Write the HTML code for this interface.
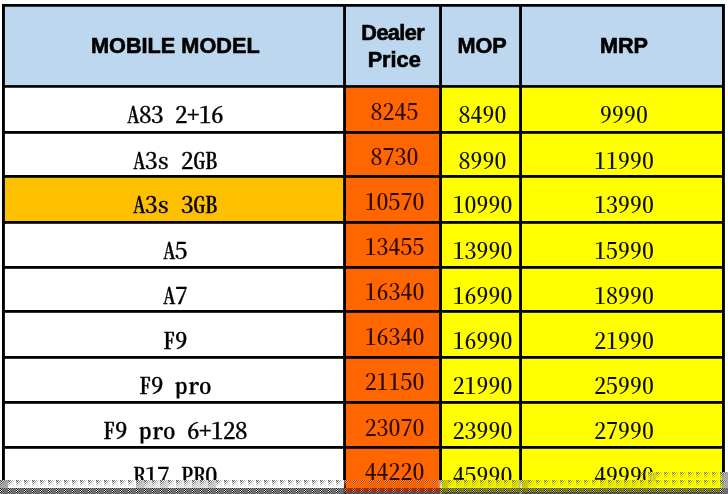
<!DOCTYPE html>
<html lang="en">
<head>
<meta charset="utf-8">
<title>Mobile price list</title>
<style>
html,body{margin:0;padding:0;background:#fff;}
body{width:728px;height:494px;overflow:hidden;position:relative;}
#sheet{position:absolute;left:0;top:0;width:728px;height:494px;overflow:hidden;background:#fff;}
#cells{position:absolute;left:0;top:0;width:728px;height:494px;}
.c{position:absolute;overflow:hidden;}
.h{position:absolute;font-family:"Liberation Sans",Arial,sans-serif;font-weight:bold;font-size:21.7px;line-height:27px;color:#000;text-align:center;white-space:nowrap;-webkit-text-stroke:0.6px #000;}
.t{position:absolute;font-family:"Noto Serif CJK SC","Liberation Serif",serif;font-feature-settings:"hwid";font-size:24px;line-height:24px;height:24px;color:#000;font-weight:500;transform-origin:50% 22.37px;transform:scale(1,0.95);text-align:center;white-space:pre;}
.m{height:28px;overflow:hidden;transform-origin:50% 22.81px;font-weight:500;font-size:25px;letter-spacing:-0.5px;-webkit-text-stroke:0.3px #000;transform:scale(1,0.915);}
.o{color:#2a0b00;font-weight:500;transform:scale(0.995,0.94);}
.y{color:#0c0c00;font-weight:500;transform:scale(0.995,0.94);}
#noise{position:absolute;left:0;top:472px;width:728px;height:22px;}
</style>
</head>
<body>
<div id="sheet">
<svg id="cells" width="728" height="494" viewBox="0 0 728 494"><rect x="2" y="4" width="722.9" height="490" fill="#000"/><rect x="4.9" y="6.75" width="338.2" height="78.35" fill="#bdd7ee"/><rect x="346.0" y="6.75" width="93.1" height="78.35" fill="#bdd7ee"/><rect x="442.0" y="6.75" width="77.1" height="78.35" fill="#bdd7ee"/><rect x="522.0" y="6.75" width="200.0" height="78.35" fill="#bdd7ee"/><rect x="4.9" y="87.75" width="338.2" height="43.25" fill="#ffffff"/><rect x="346.0" y="87.75" width="93.1" height="43.25" fill="#ff6600"/><rect x="442.0" y="87.75" width="77.1" height="43.25" fill="#ffff00"/><rect x="522.0" y="87.75" width="200.0" height="43.25" fill="#ffff00"/><rect x="4.9" y="133.8" width="338.2" height="41.2" fill="#ffffff"/><rect x="346.0" y="133.8" width="93.1" height="41.2" fill="#ff6600"/><rect x="442.0" y="133.8" width="77.1" height="41.2" fill="#ffff00"/><rect x="522.0" y="133.8" width="200.0" height="41.2" fill="#ffff00"/><rect x="4.9" y="177.8" width="338.2" height="43.2" fill="#ffc000"/><rect x="346.0" y="177.8" width="93.1" height="43.2" fill="#ff6600"/><rect x="442.0" y="177.8" width="77.1" height="43.2" fill="#ffff00"/><rect x="522.0" y="177.8" width="200.0" height="43.2" fill="#ffff00"/><rect x="4.9" y="223.8" width="338.2" height="42.2" fill="#ffffff"/><rect x="346.0" y="223.8" width="93.1" height="42.2" fill="#ff6600"/><rect x="442.0" y="223.8" width="77.1" height="42.2" fill="#ffff00"/><rect x="522.0" y="223.8" width="200.0" height="42.2" fill="#ffff00"/><rect x="4.9" y="268.8" width="338.2" height="41.2" fill="#ffffff"/><rect x="346.0" y="268.8" width="93.1" height="41.2" fill="#ff6600"/><rect x="442.0" y="268.8" width="77.1" height="41.2" fill="#ffff00"/><rect x="522.0" y="268.8" width="200.0" height="41.2" fill="#ffff00"/><rect x="4.9" y="312.8" width="338.2" height="43.2" fill="#ffffff"/><rect x="346.0" y="312.8" width="93.1" height="43.2" fill="#ff6600"/><rect x="442.0" y="312.8" width="77.1" height="43.2" fill="#ffff00"/><rect x="522.0" y="312.8" width="200.0" height="43.2" fill="#ffff00"/><rect x="4.9" y="358.8" width="338.2" height="42.2" fill="#ffffff"/><rect x="346.0" y="358.8" width="93.1" height="42.2" fill="#ff6600"/><rect x="442.0" y="358.8" width="77.1" height="42.2" fill="#ffff00"/><rect x="522.0" y="358.8" width="200.0" height="42.2" fill="#ffff00"/><rect x="4.9" y="403.8" width="338.2" height="42.2" fill="#ffffff"/><rect x="346.0" y="403.8" width="93.1" height="42.2" fill="#ff6600"/><rect x="442.0" y="403.8" width="77.1" height="42.2" fill="#ffff00"/><rect x="522.0" y="403.8" width="200.0" height="42.2" fill="#ffff00"/><rect x="4.9" y="448.8" width="338.2" height="45.2" fill="#ffffff"/><rect x="346.0" y="448.8" width="93.1" height="45.2" fill="#ff6600"/><rect x="442.0" y="448.8" width="77.1" height="45.2" fill="#ffff00"/><rect x="522.0" y="448.8" width="200.0" height="45.2" fill="#ffff00"/></svg>
<div class="h" style="left:6.3px;top:32px;width:338px">MOBILE MODEL</div>
<div class="h" style="left:347.7px;top:19px;width:93px"><span style="letter-spacing:-0.6px;position:relative;left:-1.5px">Dealer</span><br>Price</div>
<div class="h" style="left:443.6px;top:32px;width:77px">MOP</div>
<div class="h" style="left:524.0px;top:32px;width:200px">MRP</div>
<div class="t m" style="left:6.0px;top:100.29px;width:338px">A83 2+16</div>
<div class="t o" style="left:348.2px;top:97.73px;width:93px">8245</div>
<div class="t y" style="left:444.4px;top:100.73px;width:77px">8490</div>
<div class="t y" style="left:524.2px;top:100.73px;width:200px">9990</div>
<div class="t m" style="left:6.0px;top:146.29px;width:338px">A3s 2GB</div>
<div class="t o" style="left:348.2px;top:142.73px;width:93px">8730</div>
<div class="t y" style="left:444.4px;top:146.73px;width:77px">8990</div>
<div class="t y" style="left:524.2px;top:146.73px;width:200px">11990</div>
<div class="t m" style="left:6.0px;top:190.29px;width:338px">A3s 3GB</div>
<div class="t o" style="left:348.2px;top:187.73px;width:93px">10570</div>
<div class="t y" style="left:444.4px;top:190.73px;width:77px">10990</div>
<div class="t y" style="left:524.2px;top:190.73px;width:200px">13990</div>
<div class="t m" style="left:6.0px;top:236.29px;width:338px">A5</div>
<div class="t o" style="left:348.2px;top:232.73px;width:93px">13455</div>
<div class="t y" style="left:444.4px;top:236.73px;width:77px">13990</div>
<div class="t y" style="left:524.2px;top:236.73px;width:200px">15990</div>
<div class="t m" style="left:6.0px;top:281.29px;width:338px">A7</div>
<div class="t o" style="left:348.2px;top:277.73px;width:93px">16340</div>
<div class="t y" style="left:444.4px;top:281.73px;width:77px">16990</div>
<div class="t y" style="left:524.2px;top:281.73px;width:200px">18990</div>
<div class="t m" style="left:6.0px;top:326.29px;width:338px">F9</div>
<div class="t o" style="left:348.2px;top:322.73px;width:93px">16340</div>
<div class="t y" style="left:444.4px;top:326.73px;width:77px">16990</div>
<div class="t y" style="left:524.2px;top:326.73px;width:200px">21990</div>
<div class="t m" style="left:6.0px;top:371.29px;width:338px">F9 pro</div>
<div class="t o" style="left:348.2px;top:367.73px;width:93px">21150</div>
<div class="t y" style="left:444.4px;top:371.73px;width:77px">21990</div>
<div class="t y" style="left:524.2px;top:371.73px;width:200px">25990</div>
<div class="t m" style="left:6.0px;top:416.29px;width:338px">F9 pro 6+128</div>
<div class="t o" style="left:348.2px;top:413.73px;width:93px">23070</div>
<div class="t y" style="left:444.4px;top:416.73px;width:77px">23990</div>
<div class="t y" style="left:524.2px;top:416.73px;width:200px">27990</div>
<div class="t m" style="left:6.0px;top:461.29px;width:338px">R17 PRO</div>
<div class="t o" style="left:348.2px;top:457.73px;width:93px">44220</div>
<div class="t y" style="left:444.4px;top:461.73px;width:77px">45990</div>
<div class="t y" style="left:524.2px;top:461.73px;width:200px">49990</div>
<svg id="noise" width="728" height="22" viewBox="0 472 728 22" shape-rendering="crispEdges"><defs><pattern id="aw" x="0" y="472" width="8" height="8" patternUnits="userSpaceOnUse"><rect x="0" y="0" width="1" height="1" fill="#000" fill-opacity="0.85"/><rect x="1" y="0" width="1" height="1" fill="#fff" fill-opacity="0.74"/><rect x="2" y="0" width="1" height="1" fill="#000" fill-opacity="0.53"/><rect x="3" y="0" width="1" height="1" fill="#fff" fill-opacity="0.37"/><rect x="4" y="0" width="1" height="1" fill="#000" fill-opacity="0.23"/><rect x="5" y="0" width="1" height="1" fill="#fff" fill-opacity="0.14"/><rect x="6" y="0" width="1" height="1" fill="#000" fill-opacity="0.06"/><rect x="7" y="0" width="1" height="1" fill="#fff" fill-opacity="0.02"/><rect x="0" y="1" width="1" height="1" fill="#fff" fill-opacity="0.76"/><rect x="1" y="1" width="1" height="1" fill="#000" fill-opacity="0.74"/><rect x="2" y="1" width="1" height="1" fill="#fff" fill-opacity="0.47"/><rect x="3" y="1" width="1" height="1" fill="#000" fill-opacity="0.37"/><rect x="4" y="1" width="1" height="1" fill="#fff" fill-opacity="0.21"/><rect x="5" y="1" width="1" height="1" fill="#000" fill-opacity="0.14"/><rect x="6" y="1" width="1" height="1" fill="#fff" fill-opacity="0.05"/><rect x="7" y="1" width="1" height="1" fill="#000" fill-opacity="0.02"/><rect x="0" y="2" width="1" height="1" fill="#000" fill-opacity="0.56"/><rect x="1" y="2" width="1" height="1" fill="#fff" fill-opacity="0.49"/><rect x="2" y="2" width="1" height="1" fill="#000" fill-opacity="0.35"/><rect x="3" y="2" width="1" height="1" fill="#fff" fill-opacity="0.24"/><rect x="4" y="2" width="1" height="1" fill="#000" fill-opacity="0.15"/><rect x="5" y="2" width="1" height="1" fill="#fff" fill-opacity="0.09"/><rect x="6" y="2" width="1" height="1" fill="#000" fill-opacity="0.04"/><rect x="0" y="3" width="1" height="1" fill="#fff" fill-opacity="0.38"/><rect x="1" y="3" width="1" height="1" fill="#000" fill-opacity="0.38"/><rect x="2" y="3" width="1" height="1" fill="#fff" fill-opacity="0.24"/><rect x="3" y="3" width="1" height="1" fill="#000" fill-opacity="0.19"/><rect x="4" y="3" width="1" height="1" fill="#fff" fill-opacity="0.10"/><rect x="5" y="3" width="1" height="1" fill="#000" fill-opacity="0.07"/><rect x="6" y="3" width="1" height="1" fill="#fff" fill-opacity="0.03"/><rect x="0" y="4" width="1" height="1" fill="#000" fill-opacity="0.28"/><rect x="1" y="4" width="1" height="1" fill="#fff" fill-opacity="0.24"/><rect x="2" y="4" width="1" height="1" fill="#000" fill-opacity="0.17"/><rect x="3" y="4" width="1" height="1" fill="#fff" fill-opacity="0.12"/><rect x="4" y="4" width="1" height="1" fill="#000" fill-opacity="0.08"/><rect x="5" y="4" width="1" height="1" fill="#fff" fill-opacity="0.04"/><rect x="0" y="5" width="1" height="1" fill="#fff" fill-opacity="0.16"/><rect x="1" y="5" width="1" height="1" fill="#000" fill-opacity="0.16"/><rect x="2" y="5" width="1" height="1" fill="#fff" fill-opacity="0.10"/><rect x="3" y="5" width="1" height="1" fill="#000" fill-opacity="0.08"/><rect x="4" y="5" width="1" height="1" fill="#fff" fill-opacity="0.04"/><rect x="5" y="5" width="1" height="1" fill="#000" fill-opacity="0.03"/><rect x="0" y="6" width="1" height="1" fill="#000" fill-opacity="0.09"/><rect x="1" y="6" width="1" height="1" fill="#fff" fill-opacity="0.07"/><rect x="2" y="6" width="1" height="1" fill="#000" fill-opacity="0.05"/><rect x="3" y="6" width="1" height="1" fill="#fff" fill-opacity="0.04"/><rect x="4" y="6" width="1" height="1" fill="#000" fill-opacity="0.02"/><rect x="0" y="7" width="1" height="1" fill="#fff" fill-opacity="0.02"/><rect x="1" y="7" width="1" height="1" fill="#000" fill-opacity="0.02"/></pattern><pattern id="ao" x="0" y="472" width="8" height="8" patternUnits="userSpaceOnUse"><rect x="0" y="0" width="1" height="1" fill="#780000" fill-opacity="0.80"/><rect x="1" y="0" width="1" height="1" fill="#ffe890" fill-opacity="0.83"/><rect x="2" y="0" width="1" height="1" fill="#780000" fill-opacity="0.50"/><rect x="3" y="0" width="1" height="1" fill="#ffe890" fill-opacity="0.41"/><rect x="4" y="0" width="1" height="1" fill="#780000" fill-opacity="0.22"/><rect x="5" y="0" width="1" height="1" fill="#ffe890" fill-opacity="0.15"/><rect x="6" y="0" width="1" height="1" fill="#780000" fill-opacity="0.06"/><rect x="7" y="0" width="1" height="1" fill="#ffe890" fill-opacity="0.03"/><rect x="0" y="1" width="1" height="1" fill="#ffe890" fill-opacity="0.85"/><rect x="1" y="1" width="1" height="1" fill="#780000" fill-opacity="0.70"/><rect x="2" y="1" width="1" height="1" fill="#ffe890" fill-opacity="0.53"/><rect x="3" y="1" width="1" height="1" fill="#780000" fill-opacity="0.35"/><rect x="4" y="1" width="1" height="1" fill="#ffe890" fill-opacity="0.23"/><rect x="5" y="1" width="1" height="1" fill="#780000" fill-opacity="0.13"/><rect x="6" y="1" width="1" height="1" fill="#ffe890" fill-opacity="0.06"/><rect x="7" y="1" width="1" height="1" fill="#780000" fill-opacity="0.02"/><rect x="0" y="2" width="1" height="1" fill="#780000" fill-opacity="0.53"/><rect x="1" y="2" width="1" height="1" fill="#ffe890" fill-opacity="0.55"/><rect x="2" y="2" width="1" height="1" fill="#780000" fill-opacity="0.33"/><rect x="3" y="2" width="1" height="1" fill="#ffe890" fill-opacity="0.27"/><rect x="4" y="2" width="1" height="1" fill="#780000" fill-opacity="0.14"/><rect x="5" y="2" width="1" height="1" fill="#ffe890" fill-opacity="0.10"/><rect x="6" y="2" width="1" height="1" fill="#780000" fill-opacity="0.04"/><rect x="0" y="3" width="1" height="1" fill="#ffe890" fill-opacity="0.43"/><rect x="1" y="3" width="1" height="1" fill="#780000" fill-opacity="0.35"/><rect x="2" y="3" width="1" height="1" fill="#ffe890" fill-opacity="0.27"/><rect x="3" y="3" width="1" height="1" fill="#780000" fill-opacity="0.18"/><rect x="4" y="3" width="1" height="1" fill="#ffe890" fill-opacity="0.12"/><rect x="5" y="3" width="1" height="1" fill="#780000" fill-opacity="0.07"/><rect x="6" y="3" width="1" height="1" fill="#ffe890" fill-opacity="0.03"/><rect x="0" y="4" width="1" height="1" fill="#780000" fill-opacity="0.26"/><rect x="1" y="4" width="1" height="1" fill="#ffe890" fill-opacity="0.27"/><rect x="2" y="4" width="1" height="1" fill="#780000" fill-opacity="0.16"/><rect x="3" y="4" width="1" height="1" fill="#ffe890" fill-opacity="0.14"/><rect x="4" y="4" width="1" height="1" fill="#780000" fill-opacity="0.07"/><rect x="5" y="4" width="1" height="1" fill="#ffe890" fill-opacity="0.05"/><rect x="0" y="5" width="1" height="1" fill="#ffe890" fill-opacity="0.18"/><rect x="1" y="5" width="1" height="1" fill="#780000" fill-opacity="0.15"/><rect x="2" y="5" width="1" height="1" fill="#ffe890" fill-opacity="0.11"/><rect x="3" y="5" width="1" height="1" fill="#780000" fill-opacity="0.07"/><rect x="4" y="5" width="1" height="1" fill="#ffe890" fill-opacity="0.05"/><rect x="5" y="5" width="1" height="1" fill="#780000" fill-opacity="0.03"/><rect x="0" y="6" width="1" height="1" fill="#780000" fill-opacity="0.08"/><rect x="1" y="6" width="1" height="1" fill="#ffe890" fill-opacity="0.08"/><rect x="2" y="6" width="1" height="1" fill="#780000" fill-opacity="0.05"/><rect x="3" y="6" width="1" height="1" fill="#ffe890" fill-opacity="0.04"/><rect x="4" y="6" width="1" height="1" fill="#780000" fill-opacity="0.02"/><rect x="0" y="7" width="1" height="1" fill="#ffe890" fill-opacity="0.03"/><rect x="1" y="7" width="1" height="1" fill="#780000" fill-opacity="0.02"/></pattern><pattern id="ay" x="0" y="472" width="8" height="8" patternUnits="userSpaceOnUse"><rect x="0" y="0" width="1" height="1" fill="#1c1c00" fill-opacity="0.75"/><rect x="1" y="0" width="1" height="1" fill="#ffffa0" fill-opacity="0.64"/><rect x="2" y="0" width="1" height="1" fill="#1c1c00" fill-opacity="0.46"/><rect x="3" y="0" width="1" height="1" fill="#ffffa0" fill-opacity="0.32"/><rect x="4" y="0" width="1" height="1" fill="#1c1c00" fill-opacity="0.20"/><rect x="5" y="0" width="1" height="1" fill="#ffffa0" fill-opacity="0.12"/><rect x="6" y="0" width="1" height="1" fill="#1c1c00" fill-opacity="0.05"/><rect x="7" y="0" width="1" height="1" fill="#ffffa0" fill-opacity="0.02"/><rect x="0" y="1" width="1" height="1" fill="#ffffa0" fill-opacity="0.66"/><rect x="1" y="1" width="1" height="1" fill="#1c1c00" fill-opacity="0.66"/><rect x="2" y="1" width="1" height="1" fill="#ffffa0" fill-opacity="0.41"/><rect x="3" y="1" width="1" height="1" fill="#1c1c00" fill-opacity="0.33"/><rect x="4" y="1" width="1" height="1" fill="#ffffa0" fill-opacity="0.18"/><rect x="5" y="1" width="1" height="1" fill="#1c1c00" fill-opacity="0.12"/><rect x="6" y="1" width="1" height="1" fill="#ffffa0" fill-opacity="0.05"/><rect x="7" y="1" width="1" height="1" fill="#1c1c00" fill-opacity="0.02"/><rect x="0" y="2" width="1" height="1" fill="#1c1c00" fill-opacity="0.49"/><rect x="1" y="2" width="1" height="1" fill="#ffffa0" fill-opacity="0.43"/><rect x="2" y="2" width="1" height="1" fill="#1c1c00" fill-opacity="0.31"/><rect x="3" y="2" width="1" height="1" fill="#ffffa0" fill-opacity="0.21"/><rect x="4" y="2" width="1" height="1" fill="#1c1c00" fill-opacity="0.13"/><rect x="5" y="2" width="1" height="1" fill="#ffffa0" fill-opacity="0.08"/><rect x="6" y="2" width="1" height="1" fill="#1c1c00" fill-opacity="0.03"/><rect x="0" y="3" width="1" height="1" fill="#ffffa0" fill-opacity="0.34"/><rect x="1" y="3" width="1" height="1" fill="#1c1c00" fill-opacity="0.33"/><rect x="2" y="3" width="1" height="1" fill="#ffffa0" fill-opacity="0.21"/><rect x="3" y="3" width="1" height="1" fill="#1c1c00" fill-opacity="0.17"/><rect x="4" y="3" width="1" height="1" fill="#ffffa0" fill-opacity="0.09"/><rect x="5" y="3" width="1" height="1" fill="#1c1c00" fill-opacity="0.06"/><rect x="6" y="3" width="1" height="1" fill="#ffffa0" fill-opacity="0.02"/><rect x="0" y="4" width="1" height="1" fill="#1c1c00" fill-opacity="0.25"/><rect x="1" y="4" width="1" height="1" fill="#ffffa0" fill-opacity="0.21"/><rect x="2" y="4" width="1" height="1" fill="#1c1c00" fill-opacity="0.15"/><rect x="3" y="4" width="1" height="1" fill="#ffffa0" fill-opacity="0.11"/><rect x="4" y="4" width="1" height="1" fill="#1c1c00" fill-opacity="0.07"/><rect x="5" y="4" width="1" height="1" fill="#ffffa0" fill-opacity="0.04"/><rect x="0" y="5" width="1" height="1" fill="#ffffa0" fill-opacity="0.14"/><rect x="1" y="5" width="1" height="1" fill="#1c1c00" fill-opacity="0.14"/><rect x="2" y="5" width="1" height="1" fill="#ffffa0" fill-opacity="0.09"/><rect x="3" y="5" width="1" height="1" fill="#1c1c00" fill-opacity="0.07"/><rect x="4" y="5" width="1" height="1" fill="#ffffa0" fill-opacity="0.04"/><rect x="5" y="5" width="1" height="1" fill="#1c1c00" fill-opacity="0.03"/><rect x="0" y="6" width="1" height="1" fill="#1c1c00" fill-opacity="0.08"/><rect x="1" y="6" width="1" height="1" fill="#ffffa0" fill-opacity="0.06"/><rect x="2" y="6" width="1" height="1" fill="#1c1c00" fill-opacity="0.05"/><rect x="3" y="6" width="1" height="1" fill="#ffffa0" fill-opacity="0.03"/><rect x="4" y="6" width="1" height="1" fill="#1c1c00" fill-opacity="0.02"/><rect x="0" y="7" width="1" height="1" fill="#ffffa0" fill-opacity="0.02"/><rect x="1" y="7" width="1" height="1" fill="#1c1c00" fill-opacity="0.02"/></pattern><pattern id="bw" x="0" y="488" width="8" height="8" patternUnits="userSpaceOnUse"><rect x="0" y="0" width="1" height="1" fill="#000" fill-opacity="0.85"/><rect x="1" y="0" width="1" height="1" fill="#fff" fill-opacity="0.66"/><rect x="2" y="0" width="1" height="1" fill="#000" fill-opacity="0.53"/><rect x="3" y="0" width="1" height="1" fill="#fff" fill-opacity="0.33"/><rect x="4" y="0" width="1" height="1" fill="#000" fill-opacity="0.23"/><rect x="5" y="0" width="1" height="1" fill="#fff" fill-opacity="0.12"/><rect x="6" y="0" width="1" height="1" fill="#000" fill-opacity="0.06"/><rect x="7" y="0" width="1" height="1" fill="#fff" fill-opacity="0.02"/><rect x="0" y="1" width="1" height="1" fill="#fff" fill-opacity="0.80"/><rect x="1" y="1" width="1" height="1" fill="#000" fill-opacity="0.87"/><rect x="2" y="1" width="1" height="1" fill="#fff" fill-opacity="0.50"/><rect x="3" y="1" width="1" height="1" fill="#000" fill-opacity="0.44"/><rect x="4" y="1" width="1" height="1" fill="#fff" fill-opacity="0.22"/><rect x="5" y="1" width="1" height="1" fill="#000" fill-opacity="0.16"/><rect x="6" y="1" width="1" height="1" fill="#fff" fill-opacity="0.06"/><rect x="7" y="1" width="1" height="1" fill="#000" fill-opacity="0.03"/><rect x="0" y="2" width="1" height="1" fill="#000" fill-opacity="0.90"/><rect x="1" y="2" width="1" height="1" fill="#fff" fill-opacity="0.70"/><rect x="2" y="2" width="1" height="1" fill="#000" fill-opacity="0.56"/><rect x="3" y="2" width="1" height="1" fill="#fff" fill-opacity="0.35"/><rect x="4" y="2" width="1" height="1" fill="#000" fill-opacity="0.24"/><rect x="5" y="2" width="1" height="1" fill="#fff" fill-opacity="0.13"/><rect x="6" y="2" width="1" height="1" fill="#000" fill-opacity="0.06"/><rect x="7" y="2" width="1" height="1" fill="#fff" fill-opacity="0.02"/><rect x="0" y="3" width="1" height="1" fill="#fff" fill-opacity="0.68"/><rect x="1" y="3" width="1" height="1" fill="#000" fill-opacity="0.74"/><rect x="2" y="3" width="1" height="1" fill="#fff" fill-opacity="0.42"/><rect x="3" y="3" width="1" height="1" fill="#000" fill-opacity="0.37"/><rect x="4" y="3" width="1" height="1" fill="#fff" fill-opacity="0.18"/><rect x="5" y="3" width="1" height="1" fill="#000" fill-opacity="0.14"/><rect x="6" y="3" width="1" height="1" fill="#fff" fill-opacity="0.05"/><rect x="7" y="3" width="1" height="1" fill="#000" fill-opacity="0.02"/><rect x="0" y="4" width="1" height="1" fill="#000" fill-opacity="0.66"/><rect x="1" y="4" width="1" height="1" fill="#fff" fill-opacity="0.52"/><rect x="2" y="4" width="1" height="1" fill="#000" fill-opacity="0.41"/><rect x="3" y="4" width="1" height="1" fill="#fff" fill-opacity="0.26"/><rect x="4" y="4" width="1" height="1" fill="#000" fill-opacity="0.18"/><rect x="5" y="4" width="1" height="1" fill="#fff" fill-opacity="0.10"/><rect x="6" y="4" width="1" height="1" fill="#000" fill-opacity="0.05"/><rect x="0" y="5" width="1" height="1" fill="#fff" fill-opacity="0.44"/><rect x="1" y="5" width="1" height="1" fill="#000" fill-opacity="0.48"/><rect x="2" y="5" width="1" height="1" fill="#fff" fill-opacity="0.27"/><rect x="3" y="5" width="1" height="1" fill="#000" fill-opacity="0.24"/><rect x="4" y="5" width="1" height="1" fill="#fff" fill-opacity="0.12"/><rect x="5" y="5" width="1" height="1" fill="#000" fill-opacity="0.09"/><rect x="6" y="5" width="1" height="1" fill="#fff" fill-opacity="0.03"/></pattern><pattern id="bo" x="0" y="488" width="8" height="8" patternUnits="userSpaceOnUse"><rect x="0" y="0" width="1" height="1" fill="#3c0000" fill-opacity="0.85"/><rect x="1" y="0" width="1" height="1" fill="#ffd070" fill-opacity="0.70"/><rect x="2" y="0" width="1" height="1" fill="#3c0000" fill-opacity="0.53"/><rect x="3" y="0" width="1" height="1" fill="#ffd070" fill-opacity="0.35"/><rect x="4" y="0" width="1" height="1" fill="#3c0000" fill-opacity="0.23"/><rect x="5" y="0" width="1" height="1" fill="#ffd070" fill-opacity="0.13"/><rect x="6" y="0" width="1" height="1" fill="#3c0000" fill-opacity="0.06"/><rect x="7" y="0" width="1" height="1" fill="#ffd070" fill-opacity="0.02"/><rect x="0" y="1" width="1" height="1" fill="#ffd070" fill-opacity="0.85"/><rect x="1" y="1" width="1" height="1" fill="#3c0000" fill-opacity="0.87"/><rect x="2" y="1" width="1" height="1" fill="#ffd070" fill-opacity="0.53"/><rect x="3" y="1" width="1" height="1" fill="#3c0000" fill-opacity="0.44"/><rect x="4" y="1" width="1" height="1" fill="#ffd070" fill-opacity="0.23"/><rect x="5" y="1" width="1" height="1" fill="#3c0000" fill-opacity="0.16"/><rect x="6" y="1" width="1" height="1" fill="#ffd070" fill-opacity="0.06"/><rect x="7" y="1" width="1" height="1" fill="#3c0000" fill-opacity="0.03"/><rect x="0" y="2" width="1" height="1" fill="#3c0000" fill-opacity="0.90"/><rect x="1" y="2" width="1" height="1" fill="#ffd070" fill-opacity="0.74"/><rect x="2" y="2" width="1" height="1" fill="#3c0000" fill-opacity="0.56"/><rect x="3" y="2" width="1" height="1" fill="#ffd070" fill-opacity="0.37"/><rect x="4" y="2" width="1" height="1" fill="#3c0000" fill-opacity="0.24"/><rect x="5" y="2" width="1" height="1" fill="#ffd070" fill-opacity="0.14"/><rect x="6" y="2" width="1" height="1" fill="#3c0000" fill-opacity="0.06"/><rect x="7" y="2" width="1" height="1" fill="#ffd070" fill-opacity="0.02"/><rect x="0" y="3" width="1" height="1" fill="#ffd070" fill-opacity="0.72"/><rect x="1" y="3" width="1" height="1" fill="#3c0000" fill-opacity="0.74"/><rect x="2" y="3" width="1" height="1" fill="#ffd070" fill-opacity="0.45"/><rect x="3" y="3" width="1" height="1" fill="#3c0000" fill-opacity="0.37"/><rect x="4" y="3" width="1" height="1" fill="#ffd070" fill-opacity="0.20"/><rect x="5" y="3" width="1" height="1" fill="#3c0000" fill-opacity="0.14"/><rect x="6" y="3" width="1" height="1" fill="#ffd070" fill-opacity="0.05"/><rect x="7" y="3" width="1" height="1" fill="#3c0000" fill-opacity="0.02"/><rect x="0" y="4" width="1" height="1" fill="#3c0000" fill-opacity="0.33"/><rect x="1" y="4" width="1" height="1" fill="#ffd070" fill-opacity="0.27"/><rect x="2" y="4" width="1" height="1" fill="#3c0000" fill-opacity="0.21"/><rect x="3" y="4" width="1" height="1" fill="#ffd070" fill-opacity="0.14"/><rect x="4" y="4" width="1" height="1" fill="#3c0000" fill-opacity="0.09"/><rect x="5" y="4" width="1" height="1" fill="#ffd070" fill-opacity="0.05"/><rect x="6" y="4" width="1" height="1" fill="#3c0000" fill-opacity="0.02"/><rect x="0" y="5" width="1" height="1" fill="#ffd070" fill-opacity="0.19"/><rect x="1" y="5" width="1" height="1" fill="#3c0000" fill-opacity="0.19"/><rect x="2" y="5" width="1" height="1" fill="#ffd070" fill-opacity="0.12"/><rect x="3" y="5" width="1" height="1" fill="#3c0000" fill-opacity="0.10"/><rect x="4" y="5" width="1" height="1" fill="#ffd070" fill-opacity="0.05"/><rect x="5" y="5" width="1" height="1" fill="#3c0000" fill-opacity="0.04"/></pattern><pattern id="by" x="0" y="488" width="8" height="8" patternUnits="userSpaceOnUse"><rect x="0" y="0" width="1" height="1" fill="#0c0c00" fill-opacity="0.85"/><rect x="1" y="0" width="1" height="1" fill="#f4f400" fill-opacity="0.66"/><rect x="2" y="0" width="1" height="1" fill="#0c0c00" fill-opacity="0.53"/><rect x="3" y="0" width="1" height="1" fill="#f4f400" fill-opacity="0.33"/><rect x="4" y="0" width="1" height="1" fill="#0c0c00" fill-opacity="0.23"/><rect x="5" y="0" width="1" height="1" fill="#f4f400" fill-opacity="0.12"/><rect x="6" y="0" width="1" height="1" fill="#0c0c00" fill-opacity="0.06"/><rect x="7" y="0" width="1" height="1" fill="#f4f400" fill-opacity="0.02"/><rect x="0" y="1" width="1" height="1" fill="#f4f400" fill-opacity="0.80"/><rect x="1" y="1" width="1" height="1" fill="#0c0c00" fill-opacity="0.87"/><rect x="2" y="1" width="1" height="1" fill="#f4f400" fill-opacity="0.50"/><rect x="3" y="1" width="1" height="1" fill="#0c0c00" fill-opacity="0.44"/><rect x="4" y="1" width="1" height="1" fill="#f4f400" fill-opacity="0.22"/><rect x="5" y="1" width="1" height="1" fill="#0c0c00" fill-opacity="0.16"/><rect x="6" y="1" width="1" height="1" fill="#f4f400" fill-opacity="0.06"/><rect x="7" y="1" width="1" height="1" fill="#0c0c00" fill-opacity="0.03"/><rect x="0" y="2" width="1" height="1" fill="#0c0c00" fill-opacity="0.90"/><rect x="1" y="2" width="1" height="1" fill="#f4f400" fill-opacity="0.70"/><rect x="2" y="2" width="1" height="1" fill="#0c0c00" fill-opacity="0.56"/><rect x="3" y="2" width="1" height="1" fill="#f4f400" fill-opacity="0.35"/><rect x="4" y="2" width="1" height="1" fill="#0c0c00" fill-opacity="0.24"/><rect x="5" y="2" width="1" height="1" fill="#f4f400" fill-opacity="0.13"/><rect x="6" y="2" width="1" height="1" fill="#0c0c00" fill-opacity="0.06"/><rect x="7" y="2" width="1" height="1" fill="#f4f400" fill-opacity="0.02"/><rect x="0" y="3" width="1" height="1" fill="#f4f400" fill-opacity="0.68"/><rect x="1" y="3" width="1" height="1" fill="#0c0c00" fill-opacity="0.74"/><rect x="2" y="3" width="1" height="1" fill="#f4f400" fill-opacity="0.42"/><rect x="3" y="3" width="1" height="1" fill="#0c0c00" fill-opacity="0.37"/><rect x="4" y="3" width="1" height="1" fill="#f4f400" fill-opacity="0.18"/><rect x="5" y="3" width="1" height="1" fill="#0c0c00" fill-opacity="0.14"/><rect x="6" y="3" width="1" height="1" fill="#f4f400" fill-opacity="0.05"/><rect x="7" y="3" width="1" height="1" fill="#0c0c00" fill-opacity="0.02"/><rect x="0" y="4" width="1" height="1" fill="#0c0c00" fill-opacity="0.33"/><rect x="1" y="4" width="1" height="1" fill="#f4f400" fill-opacity="0.26"/><rect x="2" y="4" width="1" height="1" fill="#0c0c00" fill-opacity="0.21"/><rect x="3" y="4" width="1" height="1" fill="#f4f400" fill-opacity="0.13"/><rect x="4" y="4" width="1" height="1" fill="#0c0c00" fill-opacity="0.09"/><rect x="5" y="4" width="1" height="1" fill="#f4f400" fill-opacity="0.05"/><rect x="6" y="4" width="1" height="1" fill="#0c0c00" fill-opacity="0.02"/><rect x="0" y="5" width="1" height="1" fill="#f4f400" fill-opacity="0.18"/><rect x="1" y="5" width="1" height="1" fill="#0c0c00" fill-opacity="0.19"/><rect x="2" y="5" width="1" height="1" fill="#f4f400" fill-opacity="0.11"/><rect x="3" y="5" width="1" height="1" fill="#0c0c00" fill-opacity="0.10"/><rect x="4" y="5" width="1" height="1" fill="#f4f400" fill-opacity="0.05"/><rect x="5" y="5" width="1" height="1" fill="#0c0c00" fill-opacity="0.04"/></pattern></defs><rect x="5" y="480" width="338" height="8" fill="#ffffff"/><rect x="346" y="480" width="93" height="8" fill="#ff6600"/><rect x="442" y="480" width="77" height="8" fill="#ffff00"/><rect x="522" y="480" width="126" height="8" fill="#ffff00"/><rect x="648" y="472" width="74" height="16" fill="#ffff00"/><rect x="0" y="480" width="8" height="8" fill="#a6a6a6"/><rect x="720" y="472" width="2" height="16" fill="#e0e000"/><rect x="722" y="472" width="6" height="16" fill="#a8a8a8"/><rect x="343" y="480" width="1" height="8" fill="#e4e8f0"/><rect x="344" y="480" width="2" height="8" fill="#40200c"/><rect x="438" y="480" width="1" height="8" fill="#f07838"/><rect x="439" y="480" width="1" height="8" fill="#d89068"/><rect x="440" y="480" width="2" height="8" fill="#e4e4e4"/><rect x="442" y="480" width="6" height="8" fill="#cccc00"/><rect x="519" y="480" width="1" height="8" fill="#d8d890"/><rect x="520" y="480" width="2" height="8" fill="#e4e4e4"/><rect x="522" y="480" width="6" height="8" fill="#cccc00"/><rect x="136" y="480" width="8" height="8" fill="#000" fill-opacity="0.22"/><rect x="144" y="480" width="8" height="8" fill="#000" fill-opacity="0.12"/><rect x="152" y="480" width="8" height="8" fill="#000" fill-opacity="0.08"/><rect x="160" y="480" width="8" height="8" fill="#000" fill-opacity="0.16"/><rect x="168" y="480" width="8" height="8" fill="#000" fill-opacity="0.02"/><rect x="176" y="480" width="8" height="8" fill="#000" fill-opacity="0.08"/><rect x="184" y="480" width="8" height="8" fill="#000" fill-opacity="0.08"/><rect x="192" y="480" width="8" height="8" fill="#000" fill-opacity="0.14"/><rect x="200" y="480" width="8" height="8" fill="#000" fill-opacity="0.12"/><rect x="208" y="480" width="8" height="8" fill="#000" fill-opacity="0.2"/><rect x="368" y="480" width="8" height="8" fill="#000" fill-opacity="0.03"/><rect x="376" y="480" width="8" height="8" fill="#000" fill-opacity="0.04"/><rect x="384" y="480" width="8" height="8" fill="#000" fill-opacity="0.04"/><rect x="392" y="480" width="8" height="8" fill="#000" fill-opacity="0.04"/><rect x="400" y="480" width="8" height="8" fill="#000" fill-opacity="0.04"/><rect x="408" y="480" width="8" height="8" fill="#000" fill-opacity="0.04"/><rect x="416" y="480" width="8" height="8" fill="#000" fill-opacity="0.04"/><rect x="448" y="480" width="8" height="8" fill="#000" fill-opacity="0.04"/><rect x="456" y="480" width="8" height="8" fill="#000" fill-opacity="0.06"/><rect x="464" y="480" width="8" height="8" fill="#000" fill-opacity="0.07"/><rect x="472" y="480" width="8" height="8" fill="#000" fill-opacity="0.06"/><rect x="480" y="480" width="8" height="8" fill="#000" fill-opacity="0.07"/><rect x="488" y="480" width="8" height="8" fill="#000" fill-opacity="0.06"/><rect x="496" y="480" width="8" height="8" fill="#000" fill-opacity="0.07"/><rect x="504" y="480" width="8" height="8" fill="#000" fill-opacity="0.05"/><rect x="512" y="480" width="8" height="8" fill="#000" fill-opacity="0.12"/><rect x="528" y="480" width="8" height="8" fill="#000" fill-opacity="0.04"/><rect x="600" y="480" width="8" height="8" fill="#000" fill-opacity="0.06"/><rect x="608" y="480" width="8" height="8" fill="#000" fill-opacity="0.07"/><rect x="616" y="480" width="8" height="8" fill="#000" fill-opacity="0.06"/><rect x="624" y="480" width="8" height="8" fill="#000" fill-opacity="0.07"/><rect x="632" y="480" width="8" height="8" fill="#000" fill-opacity="0.06"/><rect x="640" y="480" width="8" height="8" fill="#000" fill-opacity="0.07"/><rect x="648" y="472" width="8" height="16" fill="#000" fill-opacity="0.06"/><rect x="650" y="473" width="2" height="8" fill="#e09a20" fill-opacity="0.5"/><rect x="653" y="473" width="2" height="8" fill="#90b848" fill-opacity="0.5"/><rect x="655" y="473" width="1" height="8" fill="#c8c820" fill-opacity="0.5"/><rect x="0" y="480" width="344" height="8" fill="url(#aw)"/><rect x="344" y="480" width="96" height="8" fill="url(#ao)"/><rect x="440" y="480" width="200" height="8" fill="url(#ay)"/><rect x="640" y="472" width="80" height="16" fill="url(#ay)"/><rect x="720" y="472" width="8" height="16" fill="url(#aw)"/><rect x="0" y="488" width="728" height="6" fill="#6c6c6c"/><rect x="346" y="488" width="93" height="4" fill="#a42c00"/><rect x="442" y="488" width="77" height="4" fill="#7e7e00"/><rect x="522" y="488" width="200" height="4" fill="#7e7e00"/><rect x="346" y="492" width="93" height="2" fill="#525054"/><rect x="442" y="492" width="280" height="2" fill="#505054"/><rect x="343" y="488" width="1" height="6" fill="#585858"/><rect x="344" y="488" width="2" height="6" fill="#202020"/><rect x="439" y="488" width="1" height="6" fill="#804030"/><rect x="440" y="488" width="2" height="6" fill="#909090"/><rect x="519" y="488" width="1" height="6" fill="#707040"/><rect x="520" y="488" width="2" height="6" fill="#909090"/><rect x="0" y="488" width="344" height="6" fill="url(#bw)"/><rect x="344" y="488" width="96" height="6" fill="url(#bo)"/><rect x="440" y="488" width="280" height="6" fill="url(#by)"/><rect x="720" y="488" width="8" height="6" fill="url(#bw)"/></svg>
</div>
</body>
</html>
